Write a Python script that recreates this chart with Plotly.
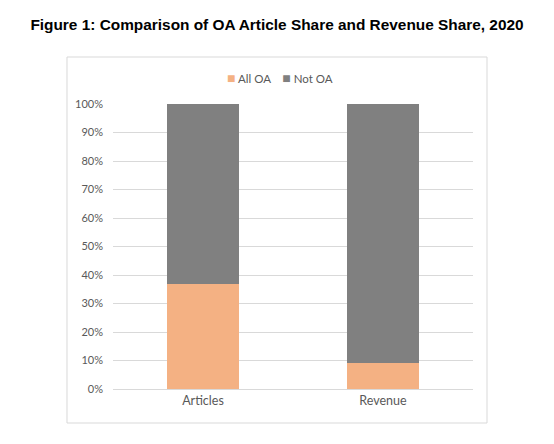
import plotly.graph_objects as go

categories = ["Articles", "Revenue"]
all_oa = [0.37, 0.09]
not_oa = [0.63, 0.91]
y_ticks = [0, 0.1, 0.2, 0.3, 0.4, 0.5, 0.6, 0.7, 0.8, 0.9, 1.0]
series_names = ["All OA", "Not OA"]

ORANGE = "#F4B183"
GREY = "#808080"
TEXT = "#595959"
LINE = "#D9D9D9"

fig = go.Figure()
fig.add_trace(go.Bar(x=categories, y=all_oa, name=series_names[0], marker_color=ORANGE,
                     marker_line_width=0))
fig.add_trace(go.Bar(x=categories, y=not_oa, name=series_names[1], marker_color=GREY,
                     marker_line_width=0))

# page body has an 8px margin, so the figure is 8px smaller than the window
fig.update_layout(
    width=546, height=436,
    barmode="stack", bargap=0.6,
    paper_bgcolor="white", plot_bgcolor="white",
    margin=dict(l=105, r=81, t=96, b=55),
    font=dict(family="Lato, Open Sans, sans-serif", color=TEXT, size=11),
    title=dict(text="<b>Figure 1: Comparison of OA Article Share and Revenue Share, 2020</b>",
               x=0.4927, xref="container", xanchor="center",
               y=0.963, yref="container", yanchor="middle",
               font=dict(family="Liberation Sans, Arial, sans-serif", size=15.4, color="black")),
    showlegend=False,
)

# legend drawn as text so the swatches sit tight against the labels
swatch = "<span style='color:%s;font-size:14px'>■</span>"
legend_text = (swatch % ORANGE + " " + series_names[0] + "    "
               + swatch % GREY + " " + series_names[1])
fig.add_annotation(text=legend_text, xref="paper", yref="paper", x=0.464, y=1.0947,
                   xanchor="center", yanchor="middle", showarrow=False,
                   font=dict(size=11.5, color=TEXT))

fig.update_xaxes(showline=True, linecolor=LINE, linewidth=1,
                 tickfont=dict(size=12.5, color=TEXT), ticks="", showgrid=False)
fig.update_yaxes(range=[0, 1.0], tickvals=y_ticks, tickformat=".0%",
                 showgrid=True, gridcolor=LINE, gridwidth=1,
                 zeroline=False, showline=False, ticks="",
                 tickfont=dict(size=11, color=TEXT), ticklabelstandoff=9)

# chart frame
fig.add_shape(type="rect", xref="paper", yref="paper",
              x0=-0.1278, x1=1.0389, y0=-0.1193, y1=1.1649,
              line=dict(color=LINE, width=1), fillcolor="rgba(0,0,0,0)", layer="below")

fig.write_html("out.html")
